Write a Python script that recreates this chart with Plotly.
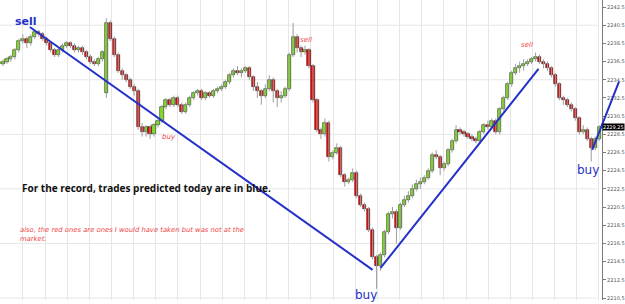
import plotly.graph_objects as go

# ---------------- data ----------------
opens = [2236.25, 2236.5, 2236.75, 2237.0, 2237.75, 2238.75, 2239.0, 2238.5, 2239.25, 2239.75,
         2239.5, 2239.0, 2238.5, 2237.75, 2237.25, 2237.75, 2238.25, 2238.5, 2238.25, 2237.75,
         2238.0, 2237.5, 2237.0, 2236.5, 2236.25, 2236.75, 2233.0, 2240.75, 2239.0, 2237.25,
         2235.5, 2235.0, 2234.5, 2233.75, 2233.25, 2229.25, 2228.75, 2229.25, 2228.5, 2229.5,
         2230.0, 2231.5, 2232.25, 2231.75, 2232.5, 2231.75, 2231.0, 2231.75, 2232.5, 2233.0,
         2233.25, 2232.5, 2233.0, 2232.75, 2233.25, 2233.5, 2233.75, 2234.25, 2235.0, 2235.5,
         2235.25, 2235.5, 2235.75, 2234.75, 2233.75, 2233.25, 2232.75, 2233.5, 2234.5, 2233.25,
         2232.5, 2232.75, 2233.5, 2237.25, 2239.25, 2238.0, 2237.5, 2237.75, 2236.0, 2232.25,
         2229.0, 2228.5, 2229.75, 2226.0, 2226.5, 2227.0, 2224.0, 2223.25, 2223.5, 2224.25,
         2221.75, 2220.75, 2220.25, 2218.0, 2215.0, 2214.0, 2215.25, 2217.75, 2219.75, 2220.0,
         2218.25, 2220.75, 2221.25, 2221.75, 2222.5, 2223.0, 2223.25, 2223.75, 2224.5, 2226.25,
         2226.0, 2224.75, 2225.25, 2226.75, 2227.75, 2229.0, 2228.75, 2228.5, 2228.25, 2228.0,
         2227.75, 2228.75, 2229.5, 2229.25, 2230.0, 2228.75, 2231.25, 2232.5, 2234.0, 2235.25,
         2235.75, 2236.0, 2236.25, 2236.5, 2236.75, 2237.0, 2236.5, 2236.25, 2235.75, 2235.0,
         2234.0, 2232.5, 2232.25, 2231.75, 2231.25, 2230.25, 2228.75, 2229.0, 2228.0, 2227.0,
         2228.0]
closes = [2236.5, 2236.75, 2237.0, 2237.75, 2238.75, 2239.0, 2238.5, 2239.25, 2239.75, 2239.5,
          2239.0, 2238.5, 2237.75, 2237.25, 2237.75, 2238.25, 2238.5, 2238.25, 2237.75, 2238.0,
          2237.5, 2237.0, 2236.5, 2236.25, 2236.75, 2237.5, 2240.75, 2239.0, 2237.25, 2235.5,
          2235.0, 2234.5, 2233.75, 2233.25, 2229.25, 2228.75, 2229.25, 2228.5, 2229.5, 2230.0,
          2231.5, 2232.25, 2231.75, 2232.5, 2231.75, 2231.0, 2231.75, 2232.5, 2233.0, 2233.25,
          2232.5, 2233.0, 2232.75, 2233.25, 2233.5, 2233.75, 2234.25, 2235.0, 2235.5, 2235.25,
          2235.5, 2235.75, 2234.75, 2233.75, 2233.25, 2232.75, 2233.5, 2234.5, 2233.25, 2232.5,
          2232.75, 2233.5, 2237.25, 2239.25, 2238.0, 2237.5, 2237.75, 2236.0, 2232.25, 2229.0,
          2228.5, 2229.75, 2226.0, 2226.5, 2227.0, 2224.0, 2223.25, 2223.5, 2224.25, 2221.75,
          2220.75, 2220.25, 2218.0, 2215.0, 2214.0, 2215.25, 2217.75, 2219.75, 2220.0, 2218.25,
          2220.75, 2221.25, 2221.75, 2222.5, 2223.0, 2223.25, 2223.75, 2224.5, 2226.25, 2226.0,
          2224.75, 2225.25, 2226.75, 2227.75, 2229.0, 2228.75, 2228.5, 2228.25, 2228.0, 2227.75,
          2228.75, 2229.5, 2229.25, 2230.0, 2228.75, 2231.25, 2232.5, 2234.0, 2235.25, 2235.75,
          2236.0, 2236.25, 2236.5, 2236.75, 2237.0, 2236.5, 2236.25, 2235.75, 2235.0, 2234.0,
          2232.5, 2232.25, 2231.75, 2231.25, 2230.25, 2228.75, 2229.0, 2228.0, 2227.0, 2228.0,
          2229.25]
highs = [2236.75, 2237.0, 2237.25, 2238.0, 2239.0, 2239.5, 2239.25, 2239.5, 2240.0, 2240.0,
         2239.75, 2239.25, 2238.75, 2238.0, 2238.0, 2238.5, 2238.75, 2238.75, 2238.5, 2238.25,
         2238.25, 2237.75, 2237.25, 2236.75, 2237.0, 2237.75, 2241.25, 2241.0, 2239.25, 2237.5,
         2235.75, 2235.25, 2234.75, 2234.0, 2233.5, 2229.75, 2229.5, 2229.5, 2229.75, 2230.25,
         2231.75, 2232.5, 2232.5, 2232.75, 2232.75, 2232.0, 2232.0, 2232.75, 2233.25, 2233.5,
         2233.5, 2233.25, 2233.25, 2233.5, 2233.75, 2234.0, 2234.5, 2235.25, 2235.75, 2236.0,
         2235.75, 2236.0, 2236.0, 2235.0, 2234.25, 2233.5, 2234.0, 2235.0, 2234.75, 2233.5,
         2233.25, 2233.75, 2237.5, 2240.75, 2239.5, 2238.25, 2238.25, 2238.0, 2236.25, 2232.5,
         2229.25, 2230.25, 2230.0, 2226.75, 2227.5, 2227.25, 2224.25, 2223.75, 2224.75, 2224.5,
         2222.0, 2221.0, 2220.5, 2218.25, 2215.25, 2215.5, 2218.0, 2220.0, 2220.5, 2220.25,
         2221.0, 2221.75, 2222.25, 2223.0, 2223.5, 2223.75, 2224.0, 2224.75, 2226.5, 2226.75,
         2226.25, 2225.5, 2227.0, 2228.0, 2229.5, 2229.25, 2229.0, 2228.75, 2228.5, 2228.25,
         2229.0, 2229.75, 2230.0, 2230.25, 2230.25, 2231.5, 2232.75, 2234.25, 2235.5, 2236.25,
         2236.5, 2236.75, 2236.75, 2237.0, 2237.5, 2237.25, 2236.75, 2236.5, 2236.0, 2235.25,
         2234.25, 2232.75, 2232.5, 2232.0, 2231.5, 2230.5, 2229.5, 2229.25, 2228.25, 2228.25,
         2229.5]
lows = [2236.0, 2236.25, 2236.5, 2236.75, 2237.5, 2238.5, 2238.0, 2238.25, 2239.0, 2239.25,
        2238.75, 2238.25, 2237.5, 2237.0, 2237.0, 2237.5, 2238.0, 2238.0, 2237.5, 2237.5,
        2237.25, 2236.75, 2236.25, 2236.0, 2236.0, 2236.5, 2232.5, 2238.75, 2237.0, 2235.25,
        2234.5, 2234.25, 2233.5, 2232.75, 2229.0, 2228.25, 2228.25, 2228.0, 2228.25, 2229.25,
        2229.75, 2231.25, 2231.5, 2231.5, 2231.5, 2230.75, 2230.75, 2231.5, 2232.25, 2232.75,
        2232.25, 2232.25, 2232.5, 2232.5, 2233.0, 2233.25, 2233.5, 2234.0, 2234.75, 2235.0,
        2234.75, 2235.25, 2234.5, 2233.25, 2232.5, 2231.75, 2232.5, 2233.25, 2232.0, 2231.5,
        2232.0, 2232.5, 2233.25, 2237.0, 2237.5, 2237.0, 2237.25, 2235.75, 2232.0, 2228.75,
        2228.0, 2228.25, 2225.5, 2225.75, 2226.25, 2223.75, 2222.75, 2223.0, 2223.25, 2221.5,
        2220.5, 2220.0, 2217.75, 2214.75, 2211.5, 2213.5, 2215.0, 2217.5, 2219.25, 2216.5,
        2218.0, 2220.5, 2221.0, 2221.5, 2222.25, 2222.5, 2223.0, 2223.5, 2224.25, 2225.75,
        2224.0, 2224.5, 2225.0, 2226.5, 2227.5, 2228.5, 2228.25, 2228.0, 2227.75, 2227.5,
        2227.5, 2228.5, 2229.0, 2229.0, 2228.5, 2228.5, 2231.0, 2232.25, 2233.75, 2235.0,
        2235.25, 2235.5, 2236.0, 2236.25, 2236.5, 2236.25, 2235.75, 2235.5, 2234.75, 2233.75,
        2232.25, 2231.75, 2231.5, 2231.0, 2230.0, 2228.5, 2228.5, 2227.75, 2225.5, 2226.75,
        2227.75]
bars = list(range(len(closes)))

# trade lines drawn on the chart: (bar0, price0, bar1, price1)
blue_trades = [(6.75, 2240.3, 93.0, 2213.6),
               (95.0, 2213.8, 134.75, 2235.7),
               (148.25, 2226.8, 155.0, 2234.3)]

price_ticks_start = 2210.5
price_tick_step = 2
grid_levels = [2210.5, 2216.5, 2222.5, 2228.5, 2234.5, 2240.5]

BLUE = "#2430C8"
RED_TXT = "#F0484A"
UP = "#7CFC00"
DOWN = "#FF0000"

# ---------------- figure ----------------
fig = go.Figure()

# wicks (high-low range of each bar)
wx, wy = [], []
for i, h, l in zip(bars, highs, lows):
    wx += [i, i, None]
    wy += [l, h, None]
fig.add_trace(go.Scatter(x=wx, y=wy, mode="lines",
                         line=dict(color="#9C9C9C", width=1),
                         hoverinfo="skip", showlegend=False))

# bodies (open-close range of each bar)
body_lo = [min(o, c) for o, c in zip(opens, closes)]
body_len = [abs(c - o) for o, c in zip(opens, closes)]
body_col = [UP if c >= o else DOWN for o, c in zip(opens, closes)]
fig.add_trace(go.Bar(x=bars, y=body_len, base=body_lo, width=0.78,
                     marker=dict(color=body_col, line=dict(color="#202020", width=0.6)),
                     showlegend=False, hoverinfo="skip"))

shapes = []
for g in grid_levels:
    shapes.append(dict(type="line", xref="paper", yref="y", x0=0, x1=0.962, y0=g, y1=g,
                       line=dict(color="#E6E6E6", width=1), layer="below"))
for (x0, y0, x1, y1) in blue_trades:
    shapes.append(dict(type="line", xref="x", yref="y", x0=x0, y0=y0, x1=x1, y1=y1,
                       line=dict(color=BLUE, width=2), layer="above"))

annotations = [
    dict(x=5.75, y=2240.95, text="<b>sell</b>", font=dict(color=BLUE, size=11, family="DejaVu Sans")),
    dict(x=91.25, y=2210.8, text="buy", font=dict(color=BLUE, size=12, family="DejaVu Sans")),
    dict(x=147.25, y=2224.6, text="buy", font=dict(color=BLUE, size=12, family="DejaVu Sans")),
    dict(x=76.25, y=2238.9, text="<i>sell</i>", font=dict(color=RED_TXT, size=7, family="DejaVu Sans")),
    dict(x=131.75, y=2238.35, text="<i>sell</i>", font=dict(color=RED_TXT, size=7, family="DejaVu Sans")),
    dict(x=41.75, y=2228.2, text="<i>buy</i>", font=dict(color=RED_TXT, size=7, family="DejaVu Sans")),
    dict(x=4.25, y=2222.6, xanchor="left", text="<b>For the record, trades predicted today are in blue.</b>",
         font=dict(color="#111111", size=10, family="Open Sans")),
    dict(x=3.75, y=2217.45, xanchor="left", align="left",
         text="<i>also, the red ones are ones I would have taken but was not at the<br>market.</i>",
         font=dict(color=RED_TXT, size=6.8, family="DejaVu Sans")),
    dict(xref="paper", x=0.9696, y=closes[-1], xanchor="left", text=f"{closes[-1]:.2f}",
         bgcolor="#000000", font=dict(color="#FFFFFF", size=5, family="DejaVu Sans"),
         borderpad=0),
]
for a in annotations:
    a.setdefault("xref", "x")
    a.setdefault("yref", "y")
    a.setdefault("showarrow", False)

fig.update_layout(
    width=625, height=304,
    margin=dict(l=0, r=0, t=0, b=4),
    paper_bgcolor="white", plot_bgcolor="white",
    shapes=shapes, annotations=annotations,
    showlegend=False, bargap=0,
    xaxis=dict(range=[-0.75, 155.5], domain=[0, 1],
               showgrid=True, gridcolor="#E6E6E6", gridwidth=1, tick0=5, dtick=5.575,
               showticklabels=False, zeroline=False, ticks="", fixedrange=True),
    yaxis=dict(range=[2210.28, 2243.27], side="right", anchor="free", position=0.9696,
               showgrid=False, zeroline=False, showline=True, linecolor="#7A7A7A", linewidth=1,
               ticks="outside", ticklen=3, tickcolor="#7A7A7A",
               tick0=price_ticks_start, dtick=price_tick_step, tickformat=".1f",
               tickfont=dict(size=5, color="#555555", family="DejaVu Sans")),
)

fig.write_html("out.html")
